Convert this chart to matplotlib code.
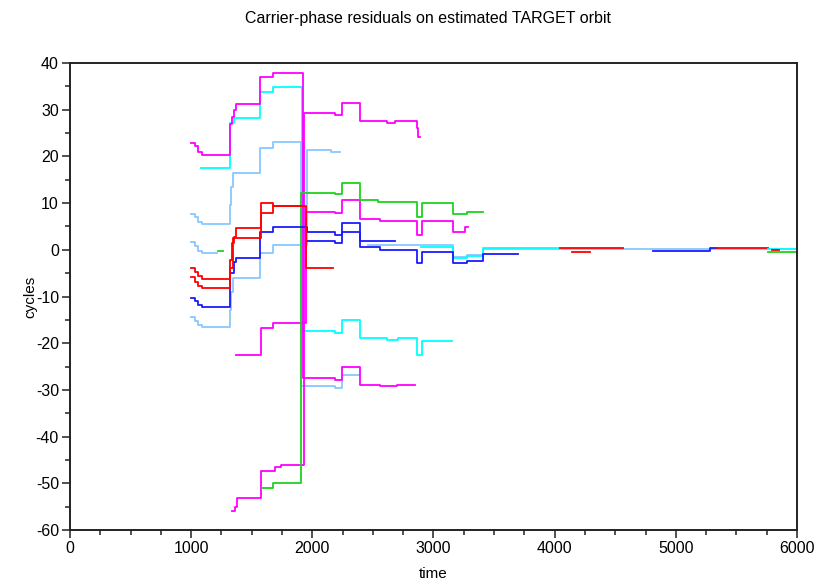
import matplotlib
matplotlib.use("Agg")
import matplotlib.pyplot as plt
from matplotlib.ticker import MultipleLocator

# ── Colours (Scilab-ish palette) ───────────────────────────────────────────
MAGENTA = '#ff00ff'
CYAN = '#00ffff'
LIGHTBLUE = '#88c8ff'
RED = '#ff0000'
BLUE = '#1a1aff'
GREEN = '#1ed21e'

# ── Residual series: breakpoints (time, cycles), drawn as post-steps ───────
lb_a_t = [1000, 1030, 1060, 1090, 1320, 1330, 1345, 1570, 1675, 1905, 2187, 2245, 2393]
lb_a_v = [7.7, 7.0, 6.0, 5.5, 9.6, 13.4, 16.4, 21.8, 23.1, -29.2, -29.6, -26.8, -26.8]

lb_b_t = [1000, 1030, 1060, 1090, 1320, 1330, 1345, 1570, 1675, 1960, 2150, 2228]
lb_b_v = [-14.4, -15.2, -16.0, -16.5, -12.9, -9.1, -6.1, -0.6, 1.0, 21.4, 21.0, 21.0]

lb_c_t = [1000, 1030, 1060, 1090, 1215]
lb_c_v = [1.6, 0.8, -0.2, -0.6, -0.6]

lb_d_t = [2460, 3161, 3276, 3408, 6000]
lb_d_v = [1.0, -1.5, -1.1, 0.1, 0.1]

m_a_t = [1000, 1030, 1060, 1090, 1320, 1335, 1350, 1370, 1570, 1675, 1925, 2187, 2245, 2393, 2558, 2700, 2850]
m_a_v = [22.9, 22.3, 21.0, 20.4, 27.0, 28.4, 30.0, 31.2, 37.0, 37.9, -27.5, -27.9, -25.1, -29.0, -29.2, -29.0, -29.0]

c_a_t = [1080, 1320, 1350, 1570, 1675, 1915, 2187, 2245, 2393, 2616, 2710, 2864, 2905, 3155]
c_a_v = [17.5, 27.2, 28.2, 33.8, 34.9, -17.4, -17.8, -15.0, -18.9, -19.3, -18.9, -22.5, -19.5, -19.5]

m_3_t = [1370, 1575, 1675, 1945, 2187, 2245, 2393, 2558, 2864, 2905, 3161, 3260, 3285]
m_3_v = [-22.5, -16.8, -15.6, 8.1, 7.8, 10.7, 6.6, 6.2, 3.2, 6.2, 3.8, 4.9, 4.9]

m_4_t = [1335, 1360, 1375, 1575, 1690, 1740, 1935, 2187, 2245, 2393, 2616, 2682, 2864, 2875, 2890]
m_4_v = [-56.0, -55.0, -53.2, -47.4, -46.5, -46.1, 29.3, 28.9, 31.4, 27.6, 27.2, 27.6, 26.0, 24.2, 24.2]

r_a_t = [1000, 1030, 1060, 1090, 1320, 1335, 1350, 1370, 1575, 1675, 1950, 2170]
r_a_v = [-3.9, -4.7, -5.7, -6.3, -2.2, 1.4, 2.7, 4.6, 10.0, 9.3, -3.9, -3.9]

r_b_t = [1000, 1030, 1060, 1090, 1320, 1345, 1575, 1675, 1910]
r_b_v = [-5.9, -6.8, -7.7, -8.2, -4.0, 2.5, 7.9, 9.3, 9.3]

b_a_t = [1000, 1030, 1060, 1090, 1320, 1355, 1370, 1570, 1675, 1955, 2187, 2245, 2393,
         2558, 2864, 2905, 3161, 3276, 3408, 3700]
b_a_v = [-10.3, -11.0, -11.8, -12.2, -5.0, -2.6, -1.8, 3.8, 4.9, 3.8, 3.2, 5.7, 0.6,
         0.0, -2.8, -0.4, -2.8, -2.5, -0.8, -0.8]

b_2_t = [1960, 2187, 2245, 2393, 2682]
b_2_v = [1.9, 1.4, 3.8, 1.9, 1.9]

g_0_t = [1585, 1675, 1905, 2187, 2245, 2393, 2540, 2864, 2905, 3161, 3276, 3410]
g_0_v = [-51.0, -49.9, 12.2, 11.9, 14.3, 10.7, 10.3, 7.0, 10.0, 7.7, 8.1, 8.1]

g_dot_t = [1225, 1260]
g_dot_v = [-0.3, -0.3]

c_2_t = [2900, 3161, 3276, 3408, 4040]
c_2_v = [0.6, -1.8, -1.3, 0.3, 0.3]

r_c_t = [4040, 4565]
r_c_v = [0.3, 0.3]
r_d_t = [4140, 4290]
r_d_v = [-0.5, -0.5]
b_3_t = [4810, 5280, 5340]
b_3_v = [-0.2, 0.3, 0.3]
r_e_t = [5340, 5760]
r_e_v = [0.3, 0.3]
c_3_t = [5760, 6000]
c_3_v = [0.1, 0.1]
g_2_t = [5760, 6000]
g_2_v = [-0.5, -0.5]
r_f_t = [5790, 5850]
r_f_v = [-0.1, -0.1]

series = [
    (lb_d_t, lb_d_v, LIGHTBLUE),
    (c_2_t, c_2_v, CYAN),
    (lb_a_t, lb_a_v, LIGHTBLUE),
    (lb_b_t, lb_b_v, LIGHTBLUE),
    (lb_c_t, lb_c_v, LIGHTBLUE),
    (g_dot_t, g_dot_v, GREEN),
    (c_a_t, c_a_v, CYAN),
    (m_a_t, m_a_v, MAGENTA),
    (m_3_t, m_3_v, MAGENTA),
    (m_4_t, m_4_v, MAGENTA),
    (g_0_t, g_0_v, GREEN),
    (b_a_t, b_a_v, BLUE),
    (b_2_t, b_2_v, BLUE),
    (r_a_t, r_a_v, RED),
    (r_b_t, r_b_v, RED),
    (r_c_t, r_c_v, RED),
    (r_d_t, r_d_v, RED),
    (b_3_t, b_3_v, BLUE),
    (r_e_t, r_e_v, RED),
    (c_3_t, c_3_v, CYAN),
    (g_2_t, g_2_v, GREEN),
    (r_f_t, r_f_v, RED),
]

# ── Figure ─────────────────────────────────────────────────────────────────
plt.rcParams['font.family'] = ['Liberation Sans', 'DejaVu Sans']
plt.rcParams['axes.unicode_minus'] = False

fig = plt.figure(figsize=(8.15, 5.83), dpi=100)
ax = fig.add_axes([0.0859, 0.0909, 0.892, 0.801])

for t, v, col in series:
    ax.plot(t, v, drawstyle='steps-post', color=col, linewidth=1.3)

ax.set_xlim(0, 6000)
ax.set_ylim(-60, 40)
ax.xaxis.set_major_locator(MultipleLocator(1000))
ax.xaxis.set_minor_locator(MultipleLocator(250))
ax.yaxis.set_major_locator(MultipleLocator(10))
ax.yaxis.set_minor_locator(MultipleLocator(5))
ax.tick_params(which='both', direction='out', top=False, right=False,
               width=1.1, color='#222222', labelsize=11.5, pad=2)
ax.tick_params(which='major', length=6)
ax.tick_params(which='minor', length=3.5)

for side in ['left', 'bottom', 'top', 'right']:
    ax.spines[side].set_linewidth(1.4)
    ax.spines[side].set_color('#222222')

ax.set_xlabel('time', fontsize=11, labelpad=8)
ax.set_ylabel('cycles', fontsize=11, labelpad=-1)
fig.text(0.5252, 1 - 18 / 583, 'Carrier-phase residuals on estimated TARGET orbit',
         ha='center', va='center', fontsize=11.5)

fig.savefig('out.png', dpi=100)
